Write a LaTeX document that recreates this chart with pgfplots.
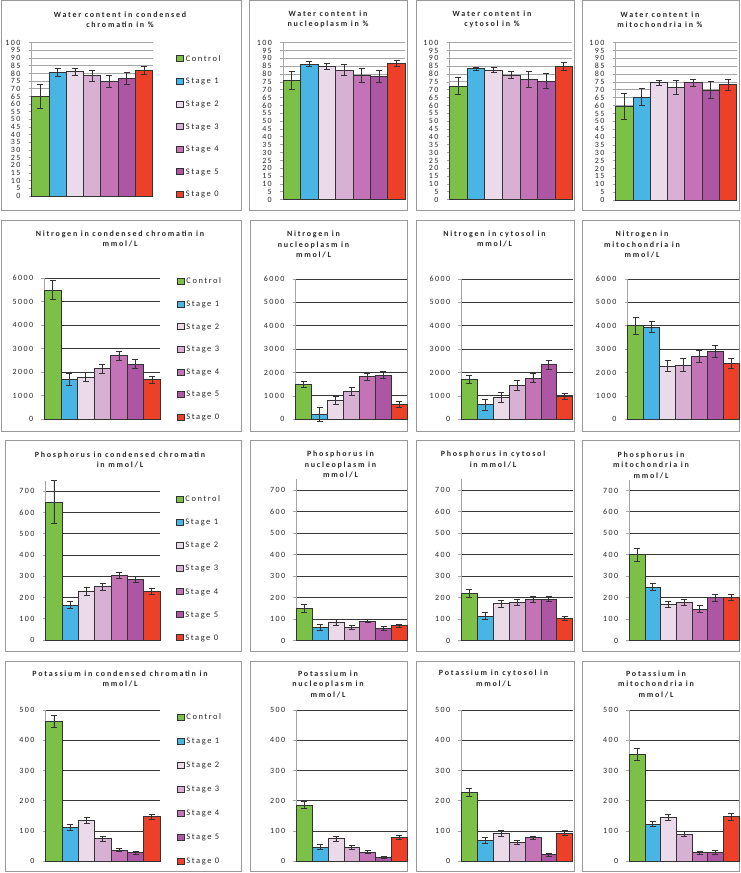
\documentclass[border=0pt]{standalone}
\usepackage{pgfplots}
\pgfplotsset{compat=1.18}
\usepackage{fontspec}
\setmainfont{Carlito}
\newfontfamily\cf[LetterSpace=18]{Carlito}
\newfontfamily\cft[LetterSpace=22]{Carlito}
\definecolor{c0}{RGB}{125,192,72}
\definecolor{c1}{RGB}{72,181,228}
\definecolor{c2}{RGB}{234,218,234}
\definecolor{c3}{RGB}{216,176,212}
\definecolor{c4}{RGB}{196,116,182}
\definecolor{c5}{RGB}{172,86,164}
\definecolor{c6}{RGB}{236,64,40}
\pgfplotsset{
  B/.style={ybar, bar width=1, bar shift=0pt, fill=#1, draw=black!80, line width=0.7pt,
    legend image code/.code={\draw[fill=#1,draw=black!80,line width=0.6pt] (0pt,-3pt) rectangle (7pt,3pt);},
    error bars/.cd, y dir=both, y explicit,
    error bar style={line width=0.7pt,black!80},
    error mark options={rotate=90, mark size=3pt, line width=0.7pt, black!80}},
  panel/.style={scale only axis, anchor=south west, xmin=-0.5, xmax=6.5, ymin=0,
    xtick=\empty, axis lines*=left, axis line style={draw=black!35, line width=1pt},
    ymajorgrids, tick align=outside, major tick length=3pt,
    ytick style={draw=black!35, line width=0.8pt},
    yticklabel style={font=\cf\fontsize{8}{9}\selectfont, text=black!85, anchor=east, inner sep=0pt, xshift=-8pt},
    /pgf/number format/assume math mode=true, /pgf/number format/1000 sep={},
    clip=false},
  r1/.style={panel, ymax=100, ytick={0,5,...,100}, major grid style={draw=black!35, line width=0.9pt}},
  r2/.style={panel, ymax=6000, ytick={0,1000,...,6000}, major grid style={draw=black!78, line width=0.9pt}},
  r3/.style={panel, ymax=750, ytick={0,100,...,700}, major grid style={draw=black!78, line width=0.9pt}},
  r4/.style={panel, ymax=500, ytick={0,100,...,500}, major grid style={draw=black!78, line width=0.9pt}},
  leg/.style n args={2}{legend entries={Control,Stage 1,Stage 2,Stage 3,Stage 4,Stage 5,Stage 0},
    legend cell align=left,
    legend style={draw=none, fill=none, anchor=west, at={#1}, inner sep=0pt,
      font=\cf\fontsize{8.5}{10}\selectfont, text=black!85,
      nodes={inner sep=0pt, text height=5.5pt, text depth=0.5pt},
      column sep=2pt, row sep=#2}},
}
\newcommand\B[3]{\addplot[B=c#1] coordinates {(#1,#2) +- (0,#3)};}
\newcommand\T[3]{\node[align=center, font=\cft\bfseries\fontsize{8}{10.4}\selectfont, text=black!85] at (#1,#2) {#3};}
\begin{document}
\begin{tikzpicture}[x=1pt,y=1pt]
% panel boxes
\begin{scope}[draw=black!40, line width=1pt]
\draw (1.5,872) rectangle (241.7,662);
\draw (249,872) rectangle (407.3,662);
\draw (416.3,872) rectangle (574,662);
\draw (582.3,872) rectangle (739.5,662);
\draw (1.5,652) rectangle (241.7,441.3);
\draw (250.5,652) rectangle (407.3,441.3);
\draw (416.3,652) rectangle (574,441.3);
\draw (582.3,652) rectangle (739.5,441.3);
\draw (5.5,432.3) rectangle (241,221.3);
\draw (250.5,432.3) rectangle (407.3,221.3);
\draw (416.3,432.3) rectangle (574,221.3);
\draw (582.3,432.3) rectangle (739.5,221.3);
\draw (5.5,211.3) rectangle (241,1.3);
\draw (250.5,211.3) rectangle (407.3,1.3);
\draw (416.3,211.3) rectangle (574,1.3);
\draw (582.3,211.3) rectangle (739.5,1.3);
\end{scope}
% titles
\T{120}{853.5}{Water content in condensed\\chromatin in \%}
\T{328}{853.5}{Water content in\\nucleoplasm in \%}
\T{492}{853.5}{Water content in\\cytosol in \%}
\T{660}{853.5}{Water content in\\mitochondria in \%}
\T{120}{634.2}{Nitrogen in condensed chromatin in\\mmol/L}
\T{313.5}{628.5}{Nitrogen in\\nucleoplasm in\\mmol/L}
\T{494.5}{634.2}{Nitrogen in cytosol in\\mmol/L}
\T{642}{628.3}{Nitrogen in\\mitochondria in\\mmol/L}
\T{120}{413.3}{Phosphorus in condensed chromatin\\in mmol/L}
\T{340.5}{408.5}{Phosphorus in\\nucleoplasm in\\mmol/L}
\T{493}{413.5}{Phosphorus in cytosol\\in mmol/L}
\T{651}{408}{Phosphorus in\\mitochondria in\\mmol/L}
\T{120}{194.3}{Potassium in condensed chromatin in\\mmol/L}
\T{328}{189}{Potassium in\\nucleoplasm in\\mmol/L}
\T{493.5}{194.5}{Potassium in cytosol in\\mmol/L}
\T{656}{189}{Potassium in\\mitochondria in\\mmol/L}
% ---------- Row 1: water content (%)
\begin{axis}[r1, at={(31.7pt,677pt)}, width=121pt, height=153.3pt, leg={(1.193,0.453)}{16pt}]
\B0{65}{8}\B1{80.5}{2.5}\B2{81}{2}\B3{78.5}{3.5}\B4{75}{4}\B5{76.5}{4}\B6{82}{2.5}
\end{axis}
\begin{axis}[r1, at={(283pt,673.3pt)}, width=122.3pt, height=157pt]
\B0{76}{5.5}\B1{86.5}{1.5}\B2{85}{2}\B3{82.5}{3.5}\B4{79}{4.5}\B5{78.5}{4}\B6{87}{2}
\end{axis}
\begin{axis}[r1, at={(449.7pt,673.3pt)}, width=122.8pt, height=157pt]
\B0{72.5}{5.5}\B1{83.5}{1}\B2{82.5}{1.5}\B3{79.5}{2.5}\B4{76.7}{5}\B5{75.5}{4.7}\B6{85}{2.5}
\end{axis}
\begin{axis}[r1, at={(615.7pt,673pt)}, width=121pt, height=157.3pt]
\B0{59.5}{8.5}\B1{65.5}{5.5}\B2{74.5}{1.5}\B3{71.5}{4.5}\B4{74.5}{2}\B5{70}{5.5}\B6{73.5}{3.5}
\end{axis}
% ---------- Row 2: nitrogen (mmol/L)
\begin{axis}[r2, at={(44.3pt,453.7pt)}, width=116pt, height=141pt, leg={(1.141,0.497)}{16pt}]
\B0{5500}{400}\B1{1700}{250}\B2{1800}{200}\B3{2150}{200}\B4{2700}{200}\B5{2350}{200}\B6{1680}{150}
\end{axis}
\begin{axis}[r2, at={(295.7pt,453.7pt)}, width=111.6pt, height=140.3pt]
\B0{1500}{120}\B1{230}{300}\B2{830}{170}\B3{1200}{180}\B4{1820}{150}\B5{1900}{170}\B6{650}{130}
\end{axis}
\begin{axis}[r2, at={(461.3pt,453.7pt)}, width=111.4pt, height=140.3pt]
\B0{1700}{180}\B1{620}{250}\B2{940}{200}\B3{1450}{200}\B4{1770}{200}\B5{2330}{200}\B6{990}{140}
\end{axis}
\begin{axis}[r2, at={(627.7pt,453.7pt)}, width=111.5pt, height=140.3pt]
\B0{4000}{350}\B1{3950}{250}\B2{2270}{230}\B3{2320}{270}\B4{2700}{250}\B5{2900}{250}\B6{2400}{220}
\end{axis}
% ---------- Row 3: phosphorus (mmol/L)
\begin{axis}[r3, at={(45.7pt,233pt)}, width=114.3pt, height=159.3pt, leg={(1.137,0.449)}{16.5pt}]
\B0{650}{100}\B1{165}{18}\B2{228}{18}\B3{252}{17}\B4{305}{15}\B5{287}{15}\B6{228}{13}
\end{axis}
\begin{axis}[r3, at={(296.3pt,232.3pt)}, width=111pt, height=161.5pt]
\B0{150}{20}\B1{62}{15}\B2{85}{12}\B3{62}{10}\B4{92}{8}\B5{58}{8}\B6{70}{8}
\end{axis}
\begin{axis}[r3, at={(461.3pt,232.3pt)}, width=111.4pt, height=161.5pt]
\B0{220}{20}\B1{115}{18}\B2{172}{15}\B3{178}{15}\B4{193}{13}\B5{193}{12}\B6{103}{8}
\end{axis}
\begin{axis}[r3, at={(629.3pt,232.3pt)}, width=109.7pt, height=161pt]
\B0{400}{30}\B1{250}{17}\B2{170}{15}\B3{178}{15}\B4{148}{15}\B5{200}{17}\B6{202}{15}
\end{axis}
% ---------- Row 4: potassium (mmol/L)
\begin{axis}[r4, at={(45.7pt,11.7pt)}, width=114.3pt, height=151.3pt, leg={(1.146,0.477)}{17.3pt}]
\B0{462}{20}\B1{113}{10}\B2{135}{10}\B3{75}{8}\B4{37}{5}\B5{28}{5}\B6{147}{8}
\end{axis}
\begin{axis}[r4, at={(296.3pt,11.7pt)}, width=111pt, height=151.3pt]
\B0{186}{12}\B1{47}{9}\B2{75}{9}\B3{47}{6}\B4{31}{4}\B5{14}{3}\B6{80}{6}
\end{axis}
\begin{axis}[r4, at={(461.3pt,11.7pt)}, width=111.4pt, height=151.3pt]
\B0{227}{13}\B1{68}{10}\B2{92}{10}\B3{62}{7}\B4{78}{6}\B5{22}{4}\B6{93}{8}
\end{axis}
\begin{axis}[r4, at={(629.3pt,11.7pt)}, width=109.7pt, height=151.3pt]
\B0{353}{20}\B1{123}{9}\B2{146}{10}\B3{90}{9}\B4{28}{6}\B5{30}{6}\B6{147}{11}
\end{axis}
\pgfresetboundingbox
\path (0,0) rectangle (740,873);
\end{tikzpicture}
\end{document}
